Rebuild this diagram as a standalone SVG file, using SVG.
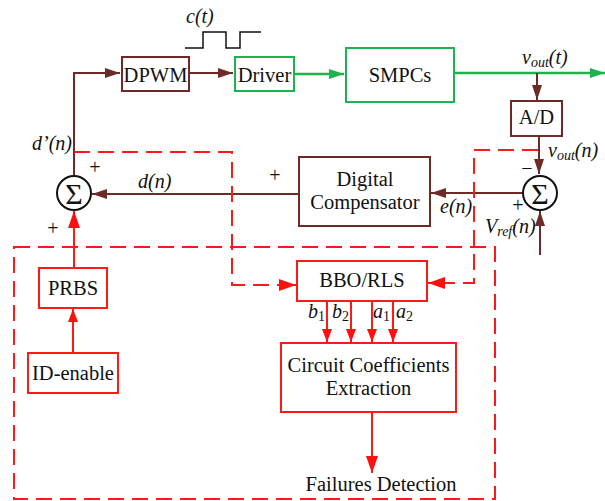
<svg xmlns="http://www.w3.org/2000/svg" width="605" height="501" viewBox="0 0 605 501" font-family="'Liberation Serif', Tinos, 'DejaVu Serif', 'Times New Roman', serif">
  <defs>
    <marker id="arrBrown" markerUnits="userSpaceOnUse" markerWidth="16" markerHeight="11" refX="15" refY="5" orient="auto">
      <path d="M0,0 L15,5 L0,10 Z" fill="#6e2a26"/>
    </marker>
    <marker id="arrGreen" markerUnits="userSpaceOnUse" markerWidth="16" markerHeight="11" refX="15" refY="5" orient="auto">
      <path d="M0,0 L15,5 L0,10 Z" fill="#1db34f"/>
    </marker>
    <marker id="arrRed" markerUnits="userSpaceOnUse" markerWidth="18" markerHeight="13" refX="17" refY="6" orient="auto">
      <path d="M0,0 L17,6 L0,12 Z" fill="#ff1010"/>
    </marker>
    <marker id="arrRedS" markerUnits="userSpaceOnUse" markerWidth="14" markerHeight="11" refX="13" refY="5" orient="auto">
      <path d="M0,0 L13,5 L0,10 Z" fill="#ff1010"/>
    </marker>
  </defs>
  <style>
    text { font-family: "Liberation Serif", Tinos, "DejaVu Serif", "Times New Roman", serif; fill: #111; }
    .lbl { font-size: 20.5px; text-anchor: middle; }
    .it { font-style: italic; font-size: 20px; }
    .sub { font-style: italic; font-size: 14px; }
    .num { font-style: normal; font-size: 14px; }
    .sign { font-size: 20px; text-anchor: middle; }
    .sigma { font-size: 30px; text-anchor: middle; }
    .bBox { fill: #fff; stroke: #6e2a26; stroke-width: 2; }
    .gBox { fill: #fff; stroke: #1db34f; stroke-width: 2; }
    .rBox { fill: #fff; stroke: #ff1a1a; stroke-width: 2; }
    .bLine { fill: none; stroke: #6e2a26; stroke-width: 2; }
    .gLine { fill: none; stroke: #1db34f; stroke-width: 2.5; }
    .rLine { fill: none; stroke: #ff1a1a; stroke-width: 2; }
    .rDash { fill: none; stroke: #ff1a1a; stroke-width: 2; stroke-dasharray: 16 8; }
    .circ { fill: #fff; stroke: #111; stroke-width: 2; }
  </style>

  <!-- identification region (dashed frame) -->
  <rect class="rDash" x="14" y="247" width="481" height="252"/>

  <g id="connectors">
    <!-- forward path -->
    <path class="bLine" d="M74,176 V73 H120" marker-end="url(#arrBrown)"/>
    <path class="bLine" d="M189,73 H233" marker-end="url(#arrBrown)"/>
    <path class="gLine" d="M294,74 H344" marker-end="url(#arrGreen)"/>
    <path class="gLine" d="M454,73 H605" marker-end="url(#arrGreen)"/>
    <path class="bLine" d="M537,73 V100" marker-end="url(#arrBrown)"/>
    <path class="bLine" d="M539,136 V174" marker-end="url(#arrBrown)"/>
    <path class="bLine" d="M540,255 V211" marker-end="url(#arrBrown)"/>
    <path class="bLine" d="M523,193 H431" marker-end="url(#arrBrown)"/>
    <path class="bLine" d="M299,194 H92" marker-end="url(#arrBrown)"/>
    <!-- excitation path -->
    <path class="rLine" d="M74,268 V211" marker-end="url(#arrRed)"/>
    <path class="rLine" d="M73,353 V309" marker-end="url(#arrRedS)"/>
    <!-- identification taps -->
    <path class="rDash" d="M74,152 H232 V285 H280"/>
    <path class="rLine" d="M279,285 H296" marker-end="url(#arrRed)"/>
    <path class="rDash" d="M538,150 H474 V283 H446"/>
    <path class="rLine" d="M448,283 H428" marker-end="url(#arrRed)"/>
    <!-- estimated coefficients -->
    <path class="rLine" d="M327,301 V342" marker-end="url(#arrRedS)"/>
    <path class="rLine" d="M351,301 V342" marker-end="url(#arrRedS)"/>
    <path class="rLine" d="M372,301 V342" marker-end="url(#arrRedS)"/>
    <path class="rLine" d="M393,301 V342" marker-end="url(#arrRedS)"/>
    <path class="rLine" d="M372,412 V473" marker-end="url(#arrRed)"/>
  </g>

  <!-- clock waveform -->
  <g id="clock">
    <path d="M185,48 H203 V32 H226 V48 H240 V32 H261" fill="none" stroke="#111" stroke-width="1.5"/>
    <text class="it" x="186" y="23">c(t)</text>
  </g>

  <g id="dpwm">
    <rect class="bBox" x="122" y="57" width="67" height="34"/>
    <text class="lbl" x="155.5" y="82">DPWM</text>
  </g>
  <g id="driver">
    <rect class="gBox" x="235" y="57" width="59" height="34"/>
    <text class="lbl" x="264.5" y="82">Driver</text>
  </g>
  <g id="smpcs">
    <rect class="gBox" x="346" y="48" width="108" height="54"/>
    <text class="lbl" x="400" y="82">SMPCs</text>
  </g>
  <g id="adc">
    <rect class="bBox" x="511" y="101" width="51" height="35"/>
    <text class="lbl" x="536.5" y="124">A/D</text>
  </g>
  <g id="compensator">
    <rect class="bBox" x="299" y="157" width="131" height="69"/>
    <text class="lbl" x="365" y="186">Digital</text>
    <text class="lbl" x="365" y="209">Compensator</text>
  </g>
  <g id="sum-out">
    <circle class="circ" cx="74" cy="193" r="17"/>
    <text class="sigma" x="74" y="204">Σ</text>
  </g>
  <g id="sum-err">
    <circle class="circ" cx="540" cy="193" r="17"/>
    <text class="sigma" x="540" y="204">Σ</text>
  </g>
  <g id="prbs">
    <rect class="rBox" x="39" y="268" width="68" height="40"/>
    <text class="lbl" x="73" y="295">PRBS</text>
  </g>
  <g id="id-enable">
    <rect class="rBox" x="28" y="353" width="90" height="40"/>
    <text class="lbl" x="73" y="380">ID-enable</text>
  </g>
  <g id="bbo-rls">
    <rect class="rBox" x="297" y="261" width="130" height="40"/>
    <text class="lbl" x="362" y="287">BBO/RLS</text>
  </g>
  <g id="extraction">
    <rect class="rBox" x="281" y="343" width="175" height="69"/>
    <text class="lbl" x="368.5" y="372">Circuit Coefficients</text>
    <text class="lbl" x="368.5" y="395">Extraction</text>
  </g>
  <g id="failures">
    <text class="lbl" x="381" y="491">Failures Detection</text>
  </g>

  <!-- signal labels -->
  <g id="labels">
    <text class="it" x="32" y="150">d’(n)</text>
    <text class="it" x="138" y="188">d(n)</text>
    <text class="it" x="440" y="213">e(n)</text>
    <text class="it" x="522" y="64">v<tspan class="sub" dy="3">out</tspan><tspan dy="-3">(t)</tspan></text>
    <text class="it" x="548" y="157">v<tspan class="sub" dy="3">out</tspan><tspan dy="-3">(n)</tspan></text>
    <text class="it" x="485" y="233">V<tspan class="sub" dy="3">ref</tspan><tspan dy="-3">(n)</tspan></text>
    <text class="it" x="308" y="318">b<tspan class="num" dy="3">1</tspan></text>
    <text class="it" x="332" y="318">b<tspan class="num" dy="3">2</tspan></text>
    <text class="it" x="373" y="318">a<tspan class="num" dy="3">1</tspan></text>
    <text class="it" x="396" y="318">a<tspan class="num" dy="3">2</tspan></text>
    <text class="sign" x="95" y="174">+</text>
    <text class="sign" x="53" y="235">+</text>
    <text class="sign" x="275" y="182">+</text>
    <text class="sign" x="527" y="175">−</text>
    <text class="sign" x="518" y="212">+</text>
  </g>
</svg>
